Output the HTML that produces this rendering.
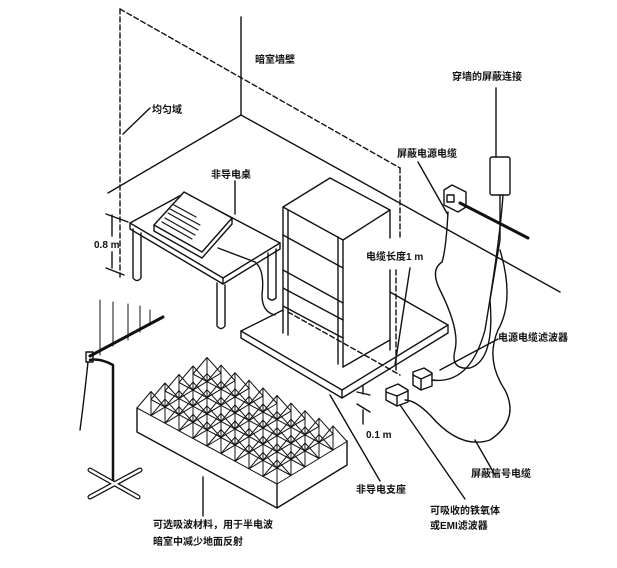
<!DOCTYPE html><html><head><meta charset="utf-8"><style>
body{margin:0;background:#fff;width:617px;height:568px;overflow:hidden}
svg{display:block}
text{font-family:"Liberation Sans","Noto Sans CJK SC",sans-serif;font-size:10px;fill:#111;font-weight:bold}
</style></head><body>
<svg width="617" height="568" viewBox="0 0 617 568" fill="none" stroke="#111" stroke-width="1.4" stroke-linecap="round" stroke-linejoin="round">
<defs>
<path id="pyr" stroke-width="1" d="M0,0 L14,-16.5 L28,-0.9 M14,7.6 L14,-16.5 M0,0 L14,7.6 L28,-0.9"/>
<g id="row">
<use href="#pyr"/><use href="#pyr" transform="translate(14,7.6)"/><use href="#pyr" transform="translate(28,15.2)"/><use href="#pyr" transform="translate(42,22.8)"/><use href="#pyr" transform="translate(56,30.4)"/><use href="#pyr" transform="translate(70,38)"/><use href="#pyr" transform="translate(84,45.6)"/><use href="#pyr" transform="translate(98,53.2)"/><use href="#pyr" transform="translate(112,60.8)"/><use href="#pyr" transform="translate(126,68.4)"/>
</g>
</defs>
<!-- walls -->
<line x1="241" y1="17" x2="241" y2="115"/>
<line x1="241" y1="115" x2="108" y2="193"/>
<line x1="241" y1="115" x2="560" y2="292"/>
<g stroke-dasharray="5,3">
<line x1="120" y1="9" x2="120" y2="277"/>
<line x1="120" y1="9" x2="400" y2="168"/>
<line x1="400" y1="168" x2="400" y2="238"/>
<line x1="396" y1="270" x2="396" y2="370"/>
</g>
<line x1="150" y1="108" x2="123" y2="134"/>
<line x1="112" y1="215" x2="112" y2="236"/><line x1="112" y1="252" x2="112" y2="268"/><line x1="106" y1="214" x2="128" y2="222"/><line x1="106" y1="268" x2="124" y2="275"/>
<!-- table -->
<polygon points="130,223 185,193 280,243 223,278"/>
<polyline points="130,223 130,229 223,284 280,249 280,243"/>
<line x1="223" y1="278" x2="223" y2="284"/>
<path d="M133,229 V278 Q137,283 141,278 V233"/>
<path d="M217,283 V326 Q221,331 225,326 V285"/>
<path d="M268,253 V298 Q272,302 276,298 V249"/>
<polygon points="154,225 184,192 232,218 202,252" fill="#fff"/>
<polyline points="154,225 154,231 202,258 232,224 232,218"/>
<g stroke-width="1.2"><line x1="168" y1="213" x2="198" y2="230"/><line x1="165" y1="218" x2="195" y2="235"/><line x1="162" y1="222" x2="192" y2="239"/><line x1="170" y1="209" x2="200" y2="225"/><line x1="174" y1="205" x2="196" y2="217"/></g>
<path d="M218,248 L255,262 Q265,270 262,295 Q262,312 275,315"/>
<line x1="235" y1="181" x2="235" y2="214"/>
<!-- cabinet -->
<polygon points="283,207 330,178 390,210 343,240"/>
<line x1="343" y1="240" x2="343" y2="367"/><line x1="338" y1="237" x2="338" y2="364"/>
<line x1="283" y1="207" x2="283" y2="333"/><line x1="288" y1="210" x2="288" y2="335"/>
<line x1="390" y1="210" x2="390" y2="238"/><line x1="390" y1="270" x2="390" y2="350"/>
<line x1="343" y1="367" x2="390" y2="340"/>
<line x1="283" y1="235" x2="343" y2="268"/><line x1="283" y1="270" x2="343" y2="303"/><line x1="283" y1="288" x2="343" y2="320"/><line x1="283" y1="306" x2="343" y2="338"/>
<!-- platform -->
<polyline points="283,310 241,331 342,390 448,325 390,292"/>
<polyline points="241,331 241,338 342,398 448,333 448,325"/>
<line x1="342" y1="390" x2="342" y2="398"/>
<line x1="288" y1="312" x2="400" y2="375" stroke-dasharray="5,3"/>
<line x1="410" y1="268" x2="395" y2="365"/>
<line x1="357" y1="392" x2="370" y2="395"/><line x1="357" y1="404" x2="370" y2="412"/>
<line x1="363" y1="394" x2="363" y2="386"/><line x1="363" y1="410" x2="363" y2="424"/>
<!-- filters -->
<polygon points="413,372 424,368 432,373 432,386 421,390 413,385"/><line x1="413" y1="375" x2="421" y2="379"/><line x1="421" y1="379" x2="432" y2="374"/><line x1="421" y1="379" x2="421" y2="390"/>
<polygon points="386,389 398,384 408,390 408,402 397,406 386,400"/><line x1="386" y1="392" x2="397" y2="396"/><line x1="397" y1="396" x2="408" y2="391"/><line x1="397" y1="396" x2="397" y2="406"/>
<line x1="498" y1="339" x2="440" y2="370"/>
<!-- outlet & wall connection -->
<polygon points="444,190 452,185 466,192 466,207 458,212 444,205" fill="#fff"/><rect x="447" y="195" width="7" height="7"/>
<line x1="460" y1="203" x2="528" y2="238" stroke-width="3"/>
<rect x="490" y="157" width="20" height="38" rx="2"/>
<line x1="496" y1="88" x2="496" y2="157"/>
<line x1="418" y1="162" x2="448" y2="215"/>
<path d="M448,212 Q446,250 442,262 Q430,270 440,290 Q460,330 455,350 Q450,370 470,368 Q495,360 490,300 Q495,270 500,240 L500,195"/>
<path d="M432,380 Q470,385 485,330 Q500,240 503,195"/>
<path d="M500,250 Q515,300 498,330 Q485,360 505,390 Q520,420 490,440 Q460,450 430,415 Q415,400 405,400"/>
<line x1="495" y1="475" x2="475" y2="440"/>
<line x1="465" y1="499" x2="400" y2="405"/>
<line x1="380" y1="481" x2="330" y2="395"/>
<!-- antenna -->
<line x1="90" y1="356" x2="163" y2="317" stroke-width="3"/>
<rect x="86" y="352" width="7" height="10"/>
<path d="M90,360 Q100,358 113,365 V484" stroke-width="2.5"/>
<path d="M88,362 Q84,400 80,430"/>
<g stroke-width="1"><line x1="100" y1="300" x2="100" y2="355"/><line x1="113" y1="302" x2="113" y2="346"/><line x1="128" y1="304" x2="128" y2="340"/><line x1="140" y1="306" x2="140" y2="332"/><line x1="150" y1="310" x2="150" y2="325"/></g>
<g stroke-width="5"><line x1="90" y1="470" x2="138" y2="497"/><line x1="140" y1="470" x2="90" y2="497"/></g>
<g stroke="#fff" stroke-width="2.5"><line x1="90" y1="470" x2="138" y2="497"/><line x1="140" y1="470" x2="90" y2="497"/></g>
<!-- absorber -->
<polyline points="137,408 137,432 277,508 347,465 347,441"/>
<line x1="277" y1="484" x2="277" y2="508"/>
<use href="#row" transform="translate(137,408)"/>
<use href="#row" transform="translate(151,399.5)"/>
<use href="#row" transform="translate(165,391)"/>
<use href="#row" transform="translate(179,382.5)"/>
<use href="#row" transform="translate(193,374)"/>
<line x1="203" y1="477" x2="203" y2="516"/>
<g stroke="none">
<text x="255" y="63">暗室墙壁</text>
<text x="152" y="113">均匀域</text>
<text x="452" y="80">穿墙的屏蔽连接</text>
<text x="397" y="157">屏蔽电源电缆</text>
<text x="211" y="178">非导电桌</text>
<text x="94" y="248">0.8 m</text>
<text x="366" y="260">电缆长度1 m</text>
<text x="498" y="341">电源电缆滤波器</text>
<text x="366" y="438">0.1 m</text>
<text x="471" y="477">屏蔽信号电缆</text>
<text x="356" y="493">非导电支座</text>
<text x="430" y="514">可吸收的铁氧体</text>
<text x="430" y="529">或EMI滤波器</text>
<text x="153" y="528">可选吸波材料，用于半电波</text>
<text x="153" y="545">暗室中减少地面反射</text>
</g>
</svg>
</body></html>
